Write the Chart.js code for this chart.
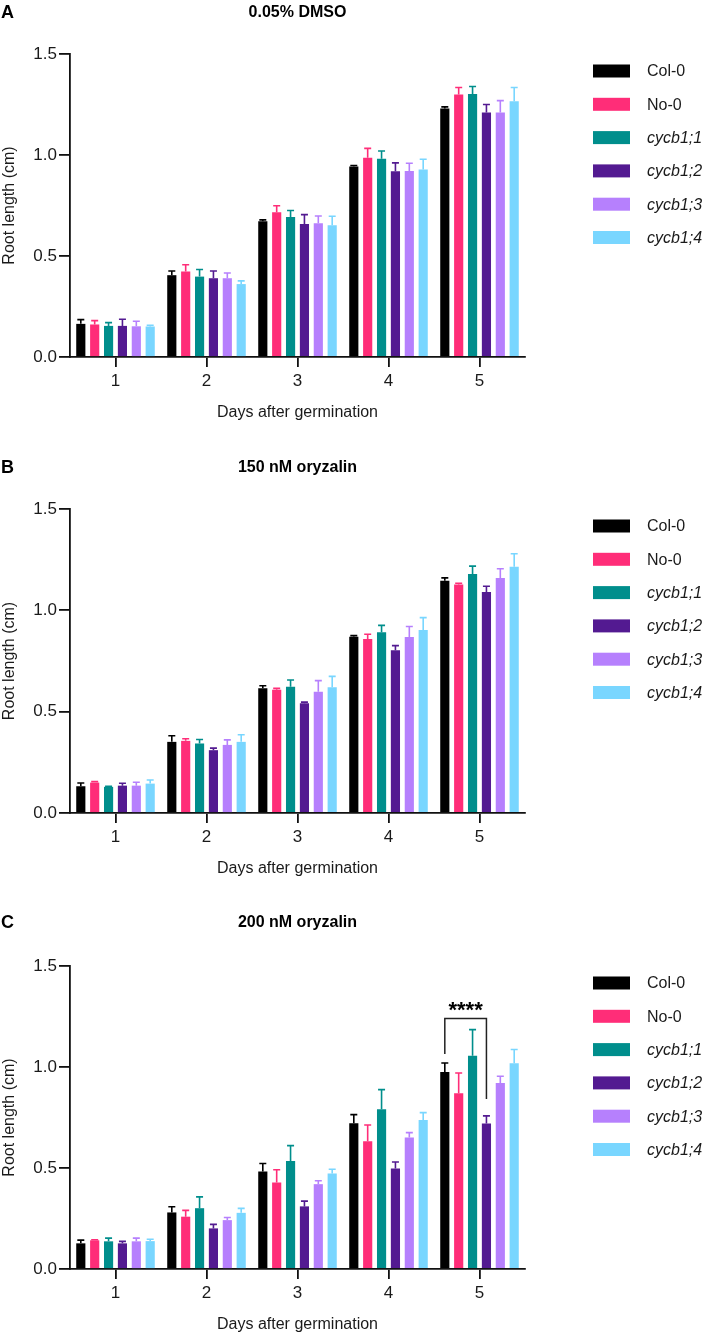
<!DOCTYPE html>
<html lang="en">
<head>
<meta charset="utf-8"/>
<title>Root length</title>
<script src="https://cdn.jsdelivr.net/npm/chart.js"></script>
<style>
  body { margin: 0; background: #fff; font-family: "Liberation Sans", Arial, sans-serif; }
  .panel { position: relative; width: 709px; }
  canvas { display: block; }
</style>
</head>
<body>
<div class="panel"><canvas id="panelA" width="709" height="440"></canvas></div>
<div class="panel"><canvas id="panelB" width="709" height="440"></canvas></div>
<div class="panel"><canvas id="panelC" width="709" height="457"></canvas></div>
<script>
  // days and genotypes
  const days = ['1', '2', '3', '4', '5'];
  const genotypes = ['Col-0', 'No-0', 'cycb1;1', 'cycb1;2', 'cycb1;3', 'cycb1;4'];
  const colors = ['#000000', '#ff2d78', '#008e8c', '#531a91', '#b680fd', '#79d6ff'];
  const yTicks = [0, 0.5, 1.0, 1.5];

  // 0.05% DMSO - mean root length (cm), one row per genotype
  const dmsoMean = [
    [0.164, 0.405, 0.672, 0.943, 1.230],
    [0.161, 0.423, 0.716, 0.987, 1.299],
    [0.154, 0.398, 0.693, 0.982, 1.302],
    [0.154, 0.390, 0.659, 0.920, 1.211],
    [0.152, 0.390, 0.662, 0.921, 1.211],
    [0.151, 0.361, 0.652, 0.928, 1.266]
  ];
  const dmsoErr = [
    [0.021, 0.021, 0.007, 0.005, 0.008],
    [0.019, 0.034, 0.033, 0.046, 0.035],
    [0.016, 0.035, 0.032, 0.038, 0.037],
    [0.033, 0.036, 0.046, 0.041, 0.039],
    [0.025, 0.026, 0.036, 0.038, 0.058],
    [0.006, 0.016, 0.045, 0.051, 0.068]
  ];

  // 150 nM oryzalin
  const ory150Mean = [
    [0.132, 0.351, 0.615, 0.870, 1.146],
    [0.150, 0.356, 0.608, 0.859, 1.127],
    [0.129, 0.343, 0.623, 0.892, 1.179],
    [0.135, 0.310, 0.542, 0.803, 1.091],
    [0.135, 0.336, 0.598, 0.869, 1.159],
    [0.145, 0.351, 0.620, 0.903, 1.215]
  ];
  const ory150Err = [
    [0.016, 0.030, 0.013, 0.005, 0.014],
    [0.005, 0.010, 0.007, 0.023, 0.007],
    [0.003, 0.020, 0.033, 0.034, 0.039],
    [0.012, 0.010, 0.005, 0.023, 0.028],
    [0.017, 0.025, 0.055, 0.051, 0.046],
    [0.018, 0.035, 0.054, 0.061, 0.064]
  ];

  // 200 nM oryzalin
  const ory200Mean = [
    [0.127, 0.280, 0.483, 0.722, 0.975],
    [0.142, 0.259, 0.428, 0.633, 0.870],
    [0.137, 0.301, 0.535, 0.791, 1.056],
    [0.127, 0.201, 0.310, 0.498, 0.720],
    [0.137, 0.242, 0.420, 0.651, 0.921],
    [0.138, 0.278, 0.473, 0.738, 1.018]
  ];
  const ory200Err = [
    [0.016, 0.028, 0.039, 0.042, 0.045],
    [0.003, 0.031, 0.063, 0.080, 0.100],
    [0.016, 0.056, 0.076, 0.097, 0.129],
    [0.010, 0.020, 0.026, 0.032, 0.038],
    [0.016, 0.013, 0.017, 0.024, 0.033],
    [0.009, 0.022, 0.021, 0.036, 0.069]
  ];

  const FONT = '"Liberation Sans", Arial, Helvetica, sans-serif';
  const INK = '#1a1a1a';

  // error bars (upper only, with cap)
  const errorBars = {
    id: 'errorBars',
    afterDatasetsDraw(chart) {
      const ctx = chart.ctx;
      const y = chart.scales.y;
      chart.data.datasets.forEach((ds, i) => {
        const meta = chart.getDatasetMeta(i);
        meta.data.forEach((bar, j) => {
          const top = y.getPixelForValue(ds.data[j] + ds.err[j]);
          ctx.save();
          ctx.strokeStyle = ds.backgroundColor;
          ctx.lineWidth = 1.6;
          ctx.beginPath();
          ctx.moveTo(bar.x, bar.y);
          ctx.lineTo(bar.x, top);
          ctx.moveTo(bar.x - 3.5, top);
          ctx.lineTo(bar.x + 3.5, top);
          ctx.stroke();
          ctx.restore();
        });
      });
    }
  };

  // panel letter, title and legend
  const panelText = {
    id: 'panelText',
    afterDraw(chart, args, opts) {
      const ctx = chart.ctx;
      const area = chart.chartArea;
      ctx.save();
      ctx.fillStyle = '#000';
      ctx.textBaseline = 'middle';
      ctx.textAlign = 'left';
      ctx.font = 'bold 18px ' + FONT;
      ctx.fillText(opts.letter, 1, opts.titleY);
      ctx.textAlign = 'center';
      ctx.font = 'bold 16px ' + FONT;
      ctx.fillText(opts.title, (area.left + area.right) / 2, opts.titleY);

      ctx.textAlign = 'left';
      chart.data.datasets.forEach((ds, i) => {
        const cy = area.top + 17 + i * 33.3;
        ctx.fillStyle = ds.backgroundColor;
        ctx.fillRect(593, cy - 6.5, 37, 13);
        ctx.fillStyle = INK;
        ctx.font = (ds.label.startsWith('cycb') ? 'italic ' : '') + '16px ' + FONT;
        ctx.fillText(ds.label, 647, cy + 1);
      });
      ctx.restore();
    }
  };

  // significance bracket between two bars of one day
  const sigBracket = {
    id: 'sigBracket',
    afterDatasetsDraw(chart, args, opts) {
      if (!opts || !opts.day) return;
      const ctx = chart.ctx;
      const y = chart.scales.y;
      const j = days.indexOf(opts.day);
      const x1 = chart.getDatasetMeta(genotypes.indexOf(opts.from)).data[j].x;
      const x2 = chart.getDatasetMeta(genotypes.indexOf(opts.to)).data[j].x;
      const yTop = y.getPixelForValue(opts.top);
      ctx.save();
      ctx.strokeStyle = '#222';
      ctx.lineWidth = 1.5;
      ctx.beginPath();
      ctx.moveTo(x1, y.getPixelForValue(opts.leftEnd));
      ctx.lineTo(x1, yTop);
      ctx.lineTo(x2, yTop);
      ctx.lineTo(x2, y.getPixelForValue(opts.rightEnd));
      ctx.stroke();
      ctx.fillStyle = '#000';
      ctx.font = 'bold 22px ' + FONT;
      ctx.textAlign = 'center';
      ctx.textBaseline = 'alphabetic';
      ctx.fillText(opts.label, (x1 + x2) / 2, y.getPixelForValue(opts.starAt) + 12.5);
      ctx.restore();
    }
  };

  function makePanel(id, means, errs, p) {
    const canvas = document.getElementById(id);
    return new Chart(canvas, {
      type: 'bar',
      data: {
        labels: days,
        datasets: genotypes.map((g, i) => ({
          label: g,
          data: means[i],
          err: errs[i],
          backgroundColor: colors[i],
          borderWidth: 0,
          categoryPercentage: 0.915,
          barPercentage: 0.66
        }))
      },
      options: {
        responsive: false,
        animation: false,
        layout: {
          padding: { top: p.top, left: 0, right: 184, bottom: canvas.height - p.bottom - 65 }
        },
        plugins: {
          legend: { display: false },
          tooltip: { enabled: false },
          panelText: { letter: p.letter, title: p.title, titleY: p.titleY },
          sigBracket: p.sig || {}
        },
        scales: {
          x: {
            offset: true,
            grid: { offset: false, drawOnChartArea: false, drawTicks: true, tickLength: 10, color: '#111', lineWidth: 1.8 },
            border: { display: true, color: '#111', width: 1.8 },
            ticks: { color: INK, font: { family: FONT, size: 17 }, padding: 4 },
            title: { display: true, text: 'Days after germination', color: INK, font: { family: FONT, size: 16 }, padding: 0 },
            afterFit(scale) { scale.height = 65; }
          },
          y: {
            min: 0,
            max: 1.5,
            afterBuildTicks(scale) { scale.ticks = yTicks.map(v => ({ value: v })); },
            grid: { drawOnChartArea: false, drawTicks: true, tickLength: 11, color: '#111', lineWidth: 1.8 },
            border: { display: true, color: '#111', width: 1.8 },
            ticks: { color: INK, font: { family: FONT, size: 17 }, padding: 2, callback: v => Number(v).toFixed(1) },
            title: { display: true, text: 'Root length (cm)', color: INK, font: { family: FONT, size: 16 }, padding: 0 },
            afterFit(scale) { scale.width = 70; }
          }
        }
      },
      plugins: [errorBars, panelText, sigBracket]
    });
  }

  makePanel('panelA', dmsoMean, dmsoErr, { letter: 'A', title: '0.05% DMSO', titleY: 13, top: 54, bottom: 357 });
  makePanel('panelB', ory150Mean, ory150Err, { letter: 'B', title: '150 nM oryzalin', titleY: 28, top: 69, bottom: 373 });
  makePanel('panelC', ory200Mean, ory200Err, {
    letter: 'C', title: '200 nM oryzalin', titleY: 43, top: 86, bottom: 389,
    sig: { day: '5', from: 'Col-0', to: 'cycb1;2', label: '****', top: 1.24, leftEnd: 1.064, rightEnd: 0.842, starAt: 1.31 }
  });
</script>
</body>
</html>
